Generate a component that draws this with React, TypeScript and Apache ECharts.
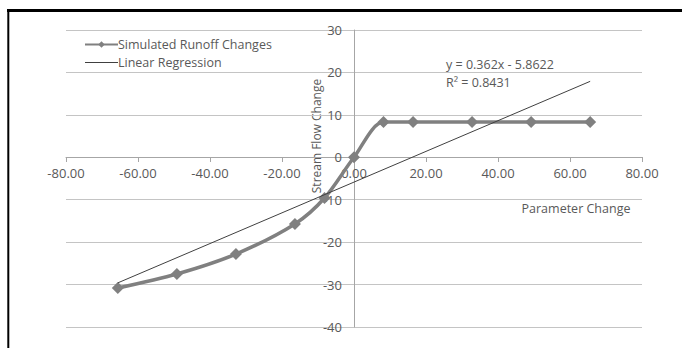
import React, { useEffect, useRef } from "react";
import * as echarts from "echarts";

const paramChange: number[] = [-65.6, -49.2, -32.8, -16.4, -8.2, 0, 8.2, 16.4, 32.8, 49.2, 65.6];
const runoffChange: number[] = [-30.8, -27.5, -22.8, -15.7, -9.6, 0, 8.3, 8.3, 8.3, 8.3, 8.3];
const regressionX: number[] = [-65.6, 65.6];
const regressionY: number[] = [-29.6, 17.9];
const seriesNames: string[] = ["Simulated Runoff Changes", "Linear Regression"];
const equationLines: string[] = ["y = 0.362x - 5.8622", "R² = 0.8431"];
const xAxisTitle = "Parameter Change";
const yAxisTitle = "Stream Flow Change";

const FONT = "Open Sans";
const TXT = "#595959";

export default function App() {
  const ref = useRef<HTMLDivElement>(null);
  useEffect(() => {
    if (!ref.current) return;
    const chart = echarts.init(ref.current, undefined, { renderer: "svg" });
    chart.setOption({
      animation: false,
      backgroundColor: "#ffffff",
      textStyle: { fontFamily: FONT },
      grid: { left: 66, right: 40, top: 30, bottom: 21, containLabel: false },
      legend: {
        orient: "vertical",
        left: 79,
        top: 33,
        itemGap: 5,
        itemWidth: 33,
        itemHeight: 8,
        textStyle: { fontFamily: FONT, fontSize: 12.5, color: TXT, padding: [0, 0, 0, -5] },
        data: [
          { name: seriesNames[0], itemStyle: { color: "#808080" } },
          { name: seriesNames[1], icon: "path://M0,0 L33,0 L33,1 L0,1 Z", itemStyle: { color: "#404040" } },
        ],
      },
      xAxis: {
        type: "value",
        min: -80,
        max: 80,
        interval: 20,
        position: "bottom",
        offset: -170,
        axisLine: { onZero: false, lineStyle: { color: "#a6a6a6", width: 1 } },
        axisTick: { show: true, length: 5, lineStyle: { color: "#a6a6a6" } },
        axisLabel: {
          margin: 9,
          fontFamily: FONT,
          fontSize: 13,
          color: TXT,
          formatter: (v: number) => v.toFixed(2),
        },
        splitLine: { show: false },
      },
      yAxis: {
        type: "value",
        min: -40,
        max: 30,
        interval: 10,
        position: "left",
        offset: -288,
        axisLine: { onZero: false, lineStyle: { color: "#a6a6a6", width: 1 } },
        axisTick: { show: false },
        axisLabel: { margin: 12, fontFamily: FONT, fontSize: 13, color: TXT },
        splitLine: { show: true, lineStyle: { color: "#c4c4c4", width: 1 } },
      },
      series: [
        {
          name: seriesNames[0],
          type: "line",
          data: paramChange.map((x, i) => [x, runoffChange[i]]),
          smooth: 0.3,
          symbol: "diamond",
          symbolSize: 12,
          lineStyle: { color: "#808080", width: 3.5 },
          itemStyle: { color: "#808080" },
          z: 3,
        },
        {
          name: seriesNames[1],
          type: "line",
          data: regressionX.map((x, i) => [x, regressionY[i]]),
          symbol: "none",
          lineStyle: { color: "#404040", width: 1 },
          itemStyle: { color: "#404040" },
          z: 4,
        },
      ],
      graphic: [
        { type: "line", shape: { x1: 7, y1: 10.5, x2: 682, y2: 10.5 }, style: { stroke: "#000", lineWidth: 3 } },
        { type: "line", shape: { x1: 8.3, y1: 9, x2: 8.3, y2: 348 }, style: { stroke: "#000", lineWidth: 2 } },
        {
          type: "text",
          x: 316,
          y: 136,
          rotation: Math.PI / 2,
          style: { text: yAxisTitle, fill: TXT, fontFamily: FONT, fontSize: 12, align: "center", verticalAlign: "middle" },
        },
        {
          type: "text",
          x: 576,
          y: 208,
          style: { text: xAxisTitle, fill: TXT, fontFamily: FONT, fontSize: 12.5, align: "center", verticalAlign: "middle" },
        },
        {
          type: "text",
          x: 446,
          y: 64,
          style: { text: equationLines[0], fill: TXT, fontFamily: FONT, fontSize: 12.5, align: "left", verticalAlign: "middle" },
        },
        {
          type: "text",
          x: 446,
          y: 82,
          style: { text: equationLines[1], fill: TXT, fontFamily: FONT, fontSize: 12.5, align: "left", verticalAlign: "middle" },
        },
      ],
    });
    return () => chart.dispose();
  }, []);
  return (
    <div style={{ position: "absolute", left: 0, top: 0, width: 682, height: 348 }}>
      <div ref={ref} style={{ width: 682, height: 348 }} />
    </div>
  );
}
